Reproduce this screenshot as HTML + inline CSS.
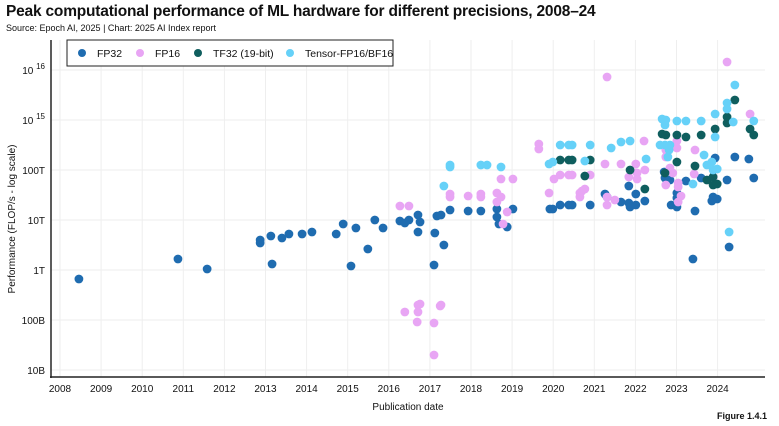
<!DOCTYPE html>
<html><head><meta charset="utf-8">
<style>
body{margin:0;background:#fff;font-family:"Liberation Sans",sans-serif;}
#wrap{position:relative;width:779px;height:426px;overflow:hidden;}
.t{position:absolute;white-space:nowrap;color:#111;}
</style></head><body>
<div id="wrap">
<div class="t" style="left:6px;top:3px;font-size:15.5px;font-weight:bold;letter-spacing:-0.2px;">Peak computational performance of ML hardware for different precisions, 2008–24</div>
<div class="t" style="left:6px;top:23px;font-size:9px;">Source: Epoch AI, 2025 | Chart: 2025 AI Index report</div>
<svg id="chart" width="779" height="426" style="position:absolute;left:0;top:0"></svg>
<div class="t" style="right:12px;top:411px;font-size:9px;font-weight:bold;">Figure 1.4.1</div>
</div>
<script>
const yearTicks=[2008,2009,2010,2011,2012,2013,2014,2015,2016,2017,2018,2019,2020,2021,2022,2023,2024];
const logTicks=[10,11,12,13,14,15,16];
const logTickLabels=["10B","100B","1T","10T","100T","10 15","10 16"];
const seriesNames=["FP32","FP16","TF32 (19-bit)","Tensor-FP16/BF16"];
const seriesColors=["#1f6cb0","#e8a5f4","#0f5e5e","#66d1f8"];
const fp32Years=[2008.46,2010.87,2011.58,2012.87,2012.87,2013.13,2013.16,2013.40,2013.57,2013.89,2014.13,2014.72,2014.89,2015.08,2015.20,2015.49,2015.66,2015.86,2016.27,2016.49,2016.39,2016.71,2016.76,2016.71,2017.12,2017.10,2017.34,2017.17,2017.27,2017.49,2017.93,2018.24,2018.63,2018.63,2018.68,2018.88,2019.02,2019.92,2019.99,2020.17,2020.38,2020.46,2020.90,2021.26,2021.31,2021.65,2021.84,2021.84,2021.87,2022.01,2022.01,2022.23,2022.70,2022.72,2022.84,2022.87,2023.01,2023.01,2023.01,2023.23,2023.40,2023.45,2023.60,2023.86,2023.89,2023.99,2023.94,2024.23,2024.28,2024.42,2024.76,2024.88];
const fp32Logs=[11.82,12.22,12.02,12.60,12.54,12.68,12.12,12.64,12.72,12.72,12.76,12.72,12.92,12.08,12.84,12.42,13.00,12.84,12.98,13.00,12.94,13.10,12.96,12.76,12.74,12.10,12.50,13.08,13.10,13.20,13.18,13.18,13.22,13.06,12.92,12.86,13.22,13.22,13.22,13.30,13.30,13.30,13.30,13.52,13.46,13.36,13.68,13.34,13.26,13.52,13.30,13.38,13.96,13.84,13.80,13.30,13.54,13.44,13.26,13.78,12.22,13.18,13.84,13.38,13.46,13.42,14.24,13.80,12.46,14.26,14.22,13.84];
const fp16Years=[2016.27,2016.49,2016.39,2016.71,2016.76,2016.71,2016.69,2017.10,2017.10,2017.25,2017.27,2017.49,2017.49,2017.93,2018.24,2018.24,2018.63,2018.63,2018.73,2018.73,2019.02,2018.88,2018.78,2019.65,2019.65,2019.90,2020.02,2020.17,2020.38,2020.46,2020.90,2020.65,2020.70,2020.77,2020.65,2021.26,2021.31,2021.31,2021.31,2021.50,2021.65,2022.01,2022.04,2022.04,2021.84,2022.21,2022.23,2022.74,2022.74,2023.01,2023.01,2022.84,2022.91,2023.04,2023.04,2023.11,2023.04,2022.74,2023.45,2023.43,2024.23,2024.79,2023.89];
const fp16Logs=[13.28,13.28,11.16,11.30,11.32,11.16,10.96,10.94,10.30,11.28,11.30,13.52,13.46,13.48,13.52,13.46,13.54,13.36,13.82,13.46,13.82,13.16,12.92,14.52,14.42,13.54,13.82,13.90,13.90,13.90,13.90,13.54,13.58,13.62,13.46,14.12,15.86,13.46,13.30,13.40,14.12,14.12,13.94,13.82,13.86,14.58,14.00,14.40,14.26,14.58,14.44,14.04,13.94,13.74,13.66,13.48,13.36,13.70,14.40,13.92,16.16,15.12,13.86];
const tf32Years=[2020.17,2020.38,2020.46,2020.90,2020.77,2021.87,2022.23,2022.65,2022.74,2023.01,2023.23,2023.60,2023.94,2022.72,2023.01,2023.45,2023.74,2023.89,2023.89,2023.99,2024.23,2024.23,2024.42,2024.79,2024.88];
const tf32Logs=[14.20,14.20,14.20,14.20,13.88,14.00,13.62,14.72,14.70,14.70,14.66,14.70,14.82,13.94,14.16,14.08,13.80,13.86,13.70,13.72,15.06,14.94,15.40,14.82,14.70];
const tensorYears=[2017.49,2017.49,2017.34,2018.24,2018.39,2018.73,2019.90,2019.99,2020.17,2020.38,2020.46,2020.90,2020.77,2021.41,2021.65,2021.87,2022.26,2022.65,2022.74,2022.72,2023.01,2023.23,2023.60,2023.94,2022.60,2022.72,2022.84,2022.79,2022.82,2023.67,2023.74,2023.86,2023.89,2023.99,2023.40,2023.94,2024.23,2024.23,2024.42,2024.38,2024.88,2024.28];
const tensorLogs=[14.10,14.06,13.68,14.10,14.10,14.06,14.12,14.16,14.50,14.50,14.50,14.50,14.18,14.44,14.56,14.58,14.22,15.02,15.00,14.90,14.98,14.98,14.98,15.12,14.50,14.50,14.50,14.26,14.40,14.30,14.10,14.16,14.00,14.02,13.72,14.66,15.34,15.22,15.70,14.96,14.98,12.76];

const NS="http://www.w3.org/2000/svg";
const svg=document.getElementById('chart');
const X0=60,XPY=41.1,Y16=70,PPD=50;
const xs=y=>X0+(y-2008)*XPY;
const ys=l=>Y16+(16-l)*PPD;
function mk(tag,attrs){const e=document.createElementNS(NS,tag);for(const k in attrs)e.setAttribute(k,attrs[k]);svg.appendChild(e);return e;}
// grid
yearTicks.forEach(y=>{const l=mk('line',{x1:xs(y),x2:xs(y),y1:40,y2:377,stroke:'#eeeeee','stroke-width':1});


const t=mk('text',{x:xs(y),y:392,'text-anchor':'middle','font-size':10,fill:'#111','font-family':'Liberation Sans, sans-serif'});t.textContent=y;

});
logTicks.forEach((v,i)=>{const l=mk('line',{x1:51,x2:765,y1:ys(v),y2:ys(v),stroke:'#eeeeee','stroke-width':1});


const t=mk('text',{x:45,y:ys(v)+4,'text-anchor':'end','font-size':10,fill:'#111','font-family':'Liberation Sans, sans-serif'});
const lab=logTickLabels[i];
if(lab.indexOf(' ')>0){const p=lab.split(' ');t.textContent=p[0]+' ';const s=document.createElementNS(NS,'tspan');s.setAttribute('dy','-5');s.setAttribute('font-size','8');s.textContent=p[1];t.appendChild(s);}else t.textContent=lab;

});
// axes
const ax1=mk('line',{x1:51,x2:51,y1:40,y2:378,stroke:'#333','stroke-width':1.6});


const ax2=mk('line',{x1:50,x2:765,y1:377,y2:377,stroke:'#222','stroke-width':1.6});


const xt=mk('text',{x:408,y:410,'text-anchor':'middle','font-size':10,fill:'#111','font-family':'Liberation Sans, sans-serif'});xt.textContent='Publication date';


const yt=mk('text',{x:0,y:0,'text-anchor':'middle','font-size':10,fill:'#111','font-family':'Liberation Sans, sans-serif',transform:'translate(15,219) rotate(-90)'});yt.textContent='Performance (FLOP/s - log scale)';


// points
const sets=[[fp32Years,fp32Logs],[fp16Years,fp16Logs],[tf32Years,tf32Logs],[tensorYears,tensorLogs]];
const pnames=['point-fp32','point-fp16','point-tf32','point-tensor'];
sets.forEach((s,si)=>{s[0].forEach((yr,i)=>{const c=mk('circle',{cx:xs(yr),cy:ys(s[1][i]),r:4.4,fill:seriesColors[si]});

});});
// legend
const lb=mk('rect',{x:67,y:40,width:326,height:26,fill:'#fff',stroke:'#222','stroke-width':1});


const lx=[82,140,198,290];
seriesNames.forEach((n,i)=>{const c=mk('circle',{cx:lx[i],cy:53,r:4,fill:seriesColors[i]});


const t=mk('text',{x:lx[i]+15,y:57,'font-size':10.5,fill:'#111','font-family':'Liberation Sans, sans-serif'});t.textContent=n;

});
</script>
</body></html>
